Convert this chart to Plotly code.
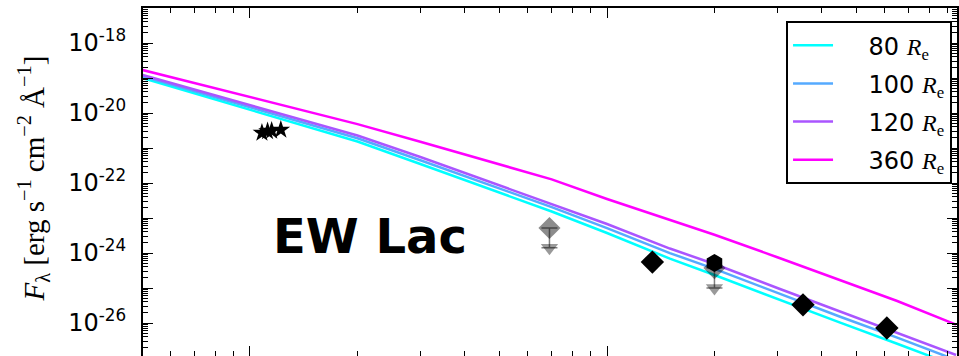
import plotly.graph_objects as go

# Model SEDs for disk radii of 80, 100, 120 and 360 R_e
wavelength = [5, 8, 12, 20, 30, 45, 70, 100, 150, 200, 300, 450, 650, 950]
flux_80 = [1.0e-19, 2.41e-20, 7.01e-21, 1.53e-21, 3.49e-22, 7.69e-23, 1.53e-23,
           3.73e-24, 6.9e-25, 2.35e-25, 4.85e-26, 1.02e-26, 2.56e-27, 5.9e-28]
flux_100 = [1.11e-19, 2.81e-20, 8.49e-21, 1.9e-21, 4.48e-22, 1.01e-22, 2.05e-23,
            5.14e-24, 9.94e-25, 3.51e-25, 7.2e-26, 1.51e-26, 3.8e-27, 8.77e-28]
flux_120 = [1.22e-19, 3.21e-20, 1.0e-20, 2.28e-21, 5.53e-22, 1.26e-22, 2.6e-23,
            6.74e-24, 1.34e-24, 4.85e-25, 1.0e-25, 2.1e-26, 5.28e-27, 1.22e-27]
flux_360 = [1.69e-19, 5.12e-20, 1.81e-20, 4.82e-21, 1.51e-21, 4.69e-22, 1.27e-22,
            3.49e-23, 8.77e-24, 3.33e-24, 7.58e-25, 1.66e-25, 4.25e-26, 9.0e-27]

model_labels = ["80", "100", "120", "360"]
model_colors = ["#00ffff", "#55aaff", "#aa55ff", "#ff00ff"]

# Observed photometry
phot_wl = [10.8, 11.2, 11.5, 12.2]
phot_flux = [2.7e-21, 3.0e-21, 3.1e-21, 3.3e-21]

det_wl = [134, 354, 608]
det_flux = [5.5e-25, 3.3e-26, 7.2e-27]

hex_wl = [200]
hex_flux = [5.2e-25]

ul_wl = [69, 200]
ul_flux = [5.2e-24, 3.7e-25]
ul_arrow_factor = 3.7

fig = go.Figure()

pad = "\u00a0" * 4
for lbl, col, fl in zip(model_labels, model_colors,
                        [flux_80, flux_100, flux_120, flux_360]):
    fig.add_trace(go.Scatter(
        x=wavelength, y=fl, mode="lines",
        line=dict(color=col, width=2.5),
        name=(f'{pad}{lbl} <span style="font-family:Liberation Serif">'
              f'<i>R</i><sub>e</sub></span>'),
        legendgroup=lbl,
    ))

# Upper limits: marker with a downward arrow
ul_end = [f / ul_arrow_factor for f in ul_flux]
gray = "rgba(0,0,0,0.45)"
fig.add_trace(go.Scatter(
    x=ul_wl, y=ul_flux, mode="markers",
    marker=dict(symbol="diamond", size=17, color=gray, line=dict(width=0)),
    error_y=dict(type="data", symmetric=False, array=[0] * len(ul_flux),
                 arrayminus=[f - e for f, e in zip(ul_flux, ul_end)],
                 color="rgba(0,0,0,0.5)", thickness=1.5, width=8),
    showlegend=False,
))
fig.add_trace(go.Scatter(
    x=ul_wl, y=ul_end, mode="markers",
    marker=dict(symbol="triangle-down", size=15, color="rgba(0,0,0,0.4)",
                line=dict(width=0)),
    showlegend=False,
))

fig.add_trace(go.Scatter(
    x=phot_wl, y=phot_flux, mode="markers",
    marker=dict(symbol="star", size=14, color="black", line=dict(width=0)),
    showlegend=False,
))
fig.add_trace(go.Scatter(
    x=det_wl, y=det_flux, mode="markers",
    marker=dict(symbol="diamond", size=18, color="black", line=dict(width=0)),
    showlegend=False,
))
fig.add_trace(go.Scatter(
    x=hex_wl, y=hex_flux, mode="markers",
    marker=dict(symbol="hexagon", size=18, color="black", line=dict(width=0)),
    showlegend=False,
))

x_minor = [k * 10 ** d for d in range(0, 3) for k in range(2, 10)]
y_decades = list(range(-27, -16))
y_major = [10.0 ** d for d in y_decades]
y_text = [f"10<sup>{d}</sup>" if d % 2 == 0 else "" for d in y_decades]
y_minor = [k * 10.0 ** d for d in range(-27, -17) for k in range(2, 10)]

axis_common = dict(
    showline=True, linecolor="black", linewidth=2, mirror="ticks",
    ticks="inside", ticklen=10, tickwidth=1, tickcolor="black",
    showgrid=False, zeroline=False,
)

fig.update_xaxes(
    type="log", range=[0.7003, 2.9804],
    tickvals=[10, 100, 1000], showticklabels=False,
    minor=dict(ticks="inside", ticklen=5, tickwidth=1, tickcolor="black",
               tickvals=x_minor, showgrid=False),
    **axis_common,
)
fig.update_yaxes(
    type="log", range=[-26.943, -17],
    tickvals=y_major, ticktext=y_text,
    tickfont=dict(family="DejaVu Sans", size=24, color="black"),
    ticklabelstandoff=10,
    minor=dict(ticks="inside", ticklen=5, tickwidth=1, tickcolor="black",
               tickvals=y_minor, showgrid=False),
    **axis_common,
)

fig.add_annotation(
    text=("<i>F</i><sub>λ</sub> [erg s<sup>−1</sup> cm<sup>−2</sup> "
          "Å<sup>−1</sup>]"),
    xref="paper", yref="paper", x=-0.1351, y=0.51,
    xanchor="center", yanchor="middle", textangle=-90, showarrow=False,
    font=dict(family="Liberation Serif", size=29, color="black"),
)
fig.add_annotation(
    text="<b>EW Lac</b>",
    xref="paper", yref="paper", x=0.2789, y=0.345,
    xanchor="center", yanchor="middle", showarrow=False,
    font=dict(family="DejaVu Sans", size=48, color="black"),
)

fig.update_layout(
    width=959, height=356,
    margin=dict(l=143, r=2, t=8, b=0),
    paper_bgcolor="white", plot_bgcolor="white",
    legend=dict(
        x=0.9939, y=0.9624, xanchor="right", yanchor="top",
        bgcolor="white", bordercolor="black", borderwidth=2,
        font=dict(family="DejaVu Sans", size=24, color="black"),
        tracegroupgap=4, itemwidth=40,
    ),
)

fig.write_html("out.html")
